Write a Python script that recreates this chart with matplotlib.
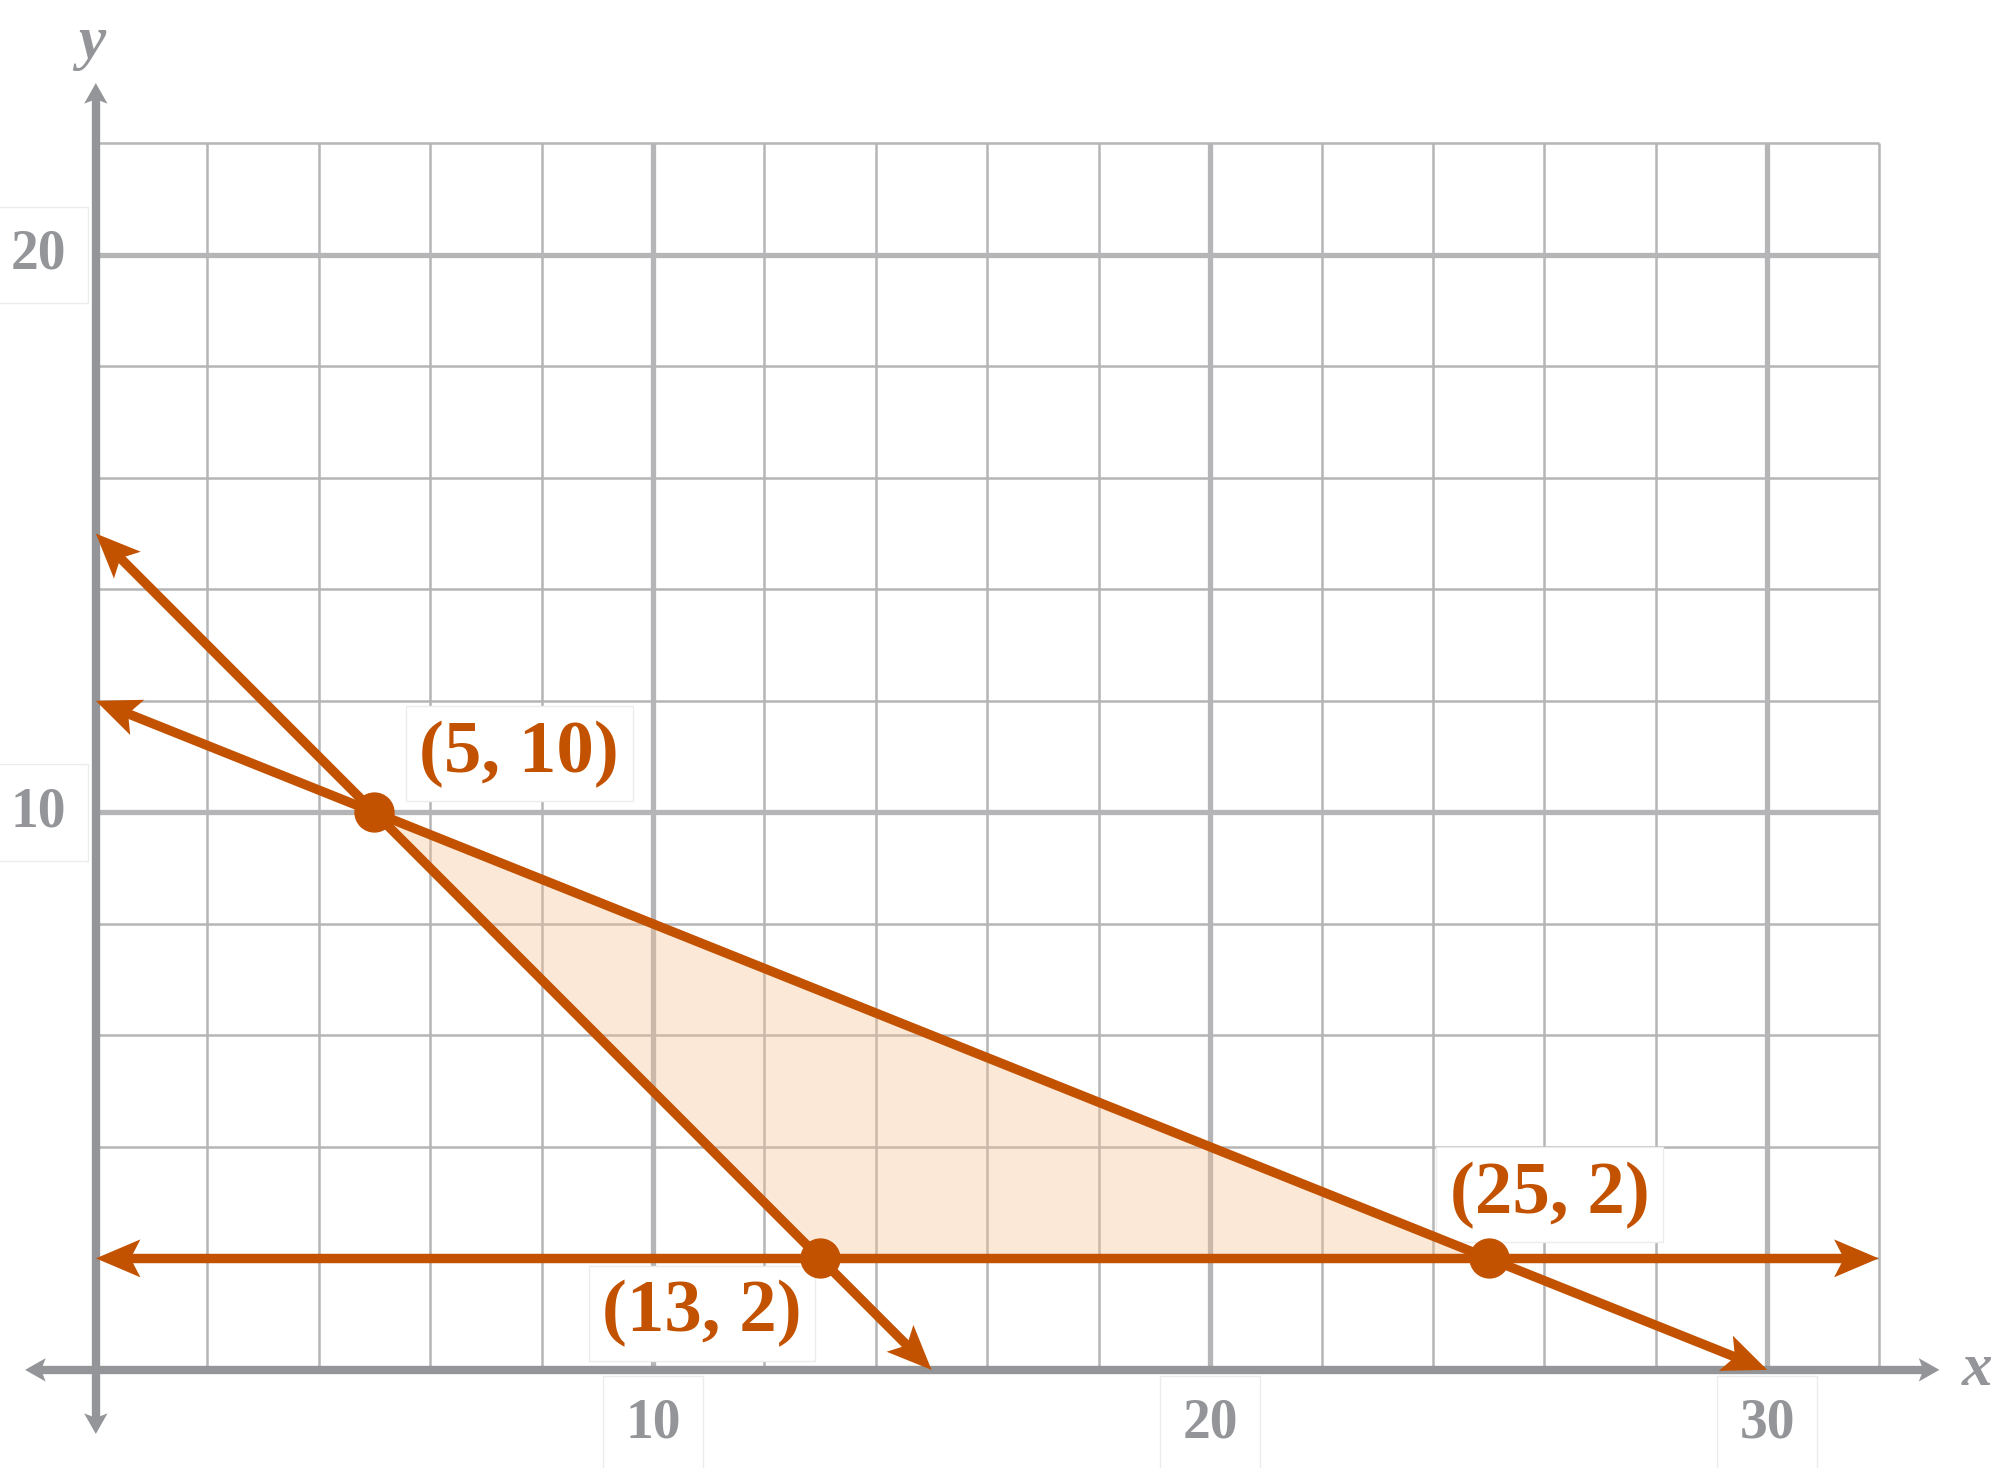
import matplotlib.pyplot as plt
import numpy as np
from matplotlib.patches import Polygon

# feasible region corners
corner_x = [5, 13, 25]
corner_y = [10, 2, 2]
corner_labels = ['(5, 10)', '(13, 2)', '(25, 2)']
label_x = [7.6, 10.88, 26.09]
label_y = [11.05, 1.02, 3.14]

# boundary lines y = slope*x + intercept, drawn from x_start to x_end
line_slope = [0, -1, -0.4]
line_intercept = [2, 15, 12]
line_x_start = [0, 0, 0]
line_x_end = [32, 15, 30]

x_ticks = [10, 20, 30]
y_ticks = [10, 20]

ORANGE = '#c25100'
AXIS_GRAY = '#939598'
GRID_GRAY = '#b5b5b7'
SERIF = ['Liberation Serif', 'DejaVu Serif']


def arrowhead(ax, tail, tip, length, width, color, z):
    # filled head with a small notch, returns the point where the shaft should stop
    tail = np.array(tail, float)
    tip = np.array(tip, float)
    d = (tip - tail) / np.linalg.norm(tip - tail)
    n = np.array([-d[1], d[0]])
    back = tip - length * d
    pts = [tip, back + n * width / 2, tip - 0.78 * length * d, back - n * width / 2]
    ax.add_patch(Polygon(pts, closed=True, facecolor=color, edgecolor='none', zorder=z))
    return tip - 0.7 * length * d


fig = plt.figure(figsize=(19.99, 14.68), dpi=100)
ax = fig.add_axes([0, 0, 1, 1])
ax.set_xlim(-1.72, 34.16)
ax.set_ylim(-1.76, 24.57)
ax.axis('off')

# grid
for gx in range(0, 33, 2):
    major = gx % 10 == 0
    ax.plot([gx, gx], [0, 22], color=GRID_GRAY, lw=3.8 if major else 1.8, zorder=1,
            solid_capstyle='butt')
for gy in range(0, 23, 2):
    major = gy % 10 == 0
    ax.plot([0, 32], [gy, gy], color=GRID_GRAY, lw=3.8 if major else 1.8, zorder=1,
            solid_capstyle='butt')

# axes with arrows at both ends
axis_segments = [((-1.27, 0), (33.09, 0)), ((0, -1.15), (0, 23.08))]
for a, b in axis_segments:
    s = arrowhead(ax, b, a, 0.37, 0.42, AXIS_GRAY, 3)
    e = arrowhead(ax, a, b, 0.37, 0.42, AXIS_GRAY, 3)
    ax.plot([s[0], e[0]], [s[1], e[1]], color=AXIS_GRAY, lw=6, zorder=3,
            solid_capstyle='butt')

ax.text(33.76, 0, 'x', fontsize=44, fontstyle='italic', fontweight='bold', family=SERIF,
        color=AXIS_GRAY, ha='center', va='center')
ax.text(-0.07, 23.8, 'y', fontsize=44, fontstyle='italic', fontweight='bold', family=SERIF,
        color=AXIS_GRAY, ha='center', va='center')

tick_box = dict(boxstyle='square,pad=0.4', facecolor='white', edgecolor='#ececec', lw=1)
for t in x_ticks:
    ax.text(t, -0.97, str(t), fontsize=40, fontweight='bold', family=SERIF, color=AXIS_GRAY,
            ha='center', va='center', bbox=tick_box, zorder=2)
for t in y_ticks:
    ax.text(-1.04, t, str(t), fontsize=40, fontweight='bold', family=SERIF, color=AXIS_GRAY,
            ha='center', va='center', bbox=tick_box, zorder=2)

# shaded region
ax.fill(corner_x, corner_y, color='#f9be8c', alpha=0.35, lw=0, zorder=2)

# boundary lines
for m, c, x0, x1 in zip(line_slope, line_intercept, line_x_start, line_x_end):
    p0 = (x0, m * x0 + c)
    p1 = (x1, m * x1 + c)
    s = arrowhead(ax, p1, p0, 0.8, 0.68, ORANGE, 5)
    e = arrowhead(ax, p0, p1, 0.8, 0.68, ORANGE, 5)
    ax.plot([s[0], e[0]], [s[1], e[1]], color=ORANGE, lw=6.8, zorder=5, solid_capstyle='butt')

ax.plot(corner_x, corner_y, 'o', color=ORANGE, markersize=28, zorder=6)

label_box = dict(boxstyle='square,pad=0.18', facecolor='white', edgecolor='#ececec', lw=1)
for lx, ly, txt in zip(label_x, label_y, corner_labels):
    ax.text(lx, ly, txt, fontsize=54, fontweight='bold', family=SERIF, color=ORANGE,
            ha='center', va='center', bbox=label_box, zorder=4)

fig.savefig('out.png', dpi=100)
